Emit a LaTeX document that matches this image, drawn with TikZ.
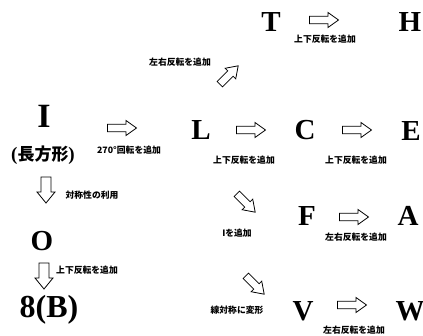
\documentclass[tikz,border=0pt]{standalone}
\usepackage{fontspec}
\setmainfont{Liberation Serif}
\newfontfamily\jp{Noto Sans CJK JP}
\tikzset{
  big/.style={font=\fontsize{29}{30}\selectfont\bfseries, inner sep=0pt},
  lbl/.style={font=\jp\fontsize{8.8}{9}\selectfont\bfseries, inner sep=0pt},
  harr/.pic={\draw[line width=0.8pt, fill=white, line join=miter]
     (-14.5,-3.8) -- (4,-3.8) -- (4,-7.5) -- (14.5,0) -- (4,7.5) -- (4,3.8) -- (-14.5,3.8) -- cycle;},
  varr/.pic={\draw[line width=0.8pt, fill=white, line join=miter]
     (-13,-5) -- (2,-5) -- (2,-9) -- (13,0) -- (2,9) -- (2,5) -- (-13,5) -- cycle;},
  darr/.pic={\draw[line width=0.8pt, fill=white, line join=miter]
     (-13,-3.8) -- (2,-3.8) -- (2,-7.5) -- (13,0) -- (2,7.5) -- (2,3.8) -- (-13,3.8) -- cycle;},
}
\begin{document}
\begin{tikzpicture}[x=1pt,y=-1pt]
\useasboundingbox (0,0) rectangle (423,336);
% letters
\node[big, font=\fontsize{34}{35}\selectfont\bfseries] (I) at (44,116) {I};
\node[font=\fontsize{17}{18}\selectfont\bfseries, inner sep=0pt] (Irect) at (43,155) {{\fontsize{19}{19}\selectfont(}\jp 長方形{\rmfamily\fontsize{19}{19}\selectfont)}};
\node[big] (T) at (271,22) {T};
\node[big] (H) at (410,22) {H};
\node[big] (L) at (201,130) {L};
\node[big] (C) at (305,130) {C};
\node[big] (E) at (411,131) {E};
\node[big] (F) at (307,216) {F};
\node[big] (A) at (408,216) {A};
\node[big] (V) at (303,311) {V};
\node[big] (W) at (410,311) {W};
\node[big] (O) at (42,241) {O};
\node[big, font=\fontsize{32}{33}\selectfont\bfseries] (B) at (49,310) {8(B)};
% arrows
\pic at (122,128) {harr};
\pic at (251,130) {harr};
\pic at (357,130) {harr};
\pic at (324,20) {harr};
\pic at (354,217) {harr};
\pic at (352,305) {harr};
\pic[rotate=45] at (229,75) {darr};
\pic[rotate=-45] at (246,203) {darr};
\pic[rotate=-45] at (255,285) {darr};
\pic[rotate=-90] at (46,190) {varr};
\pic[rotate=-90] at (44,276) {varr};
% labels
\node[lbl] (l1) at (129,150) {270°回転を追加};
\node[lbl] (l2) at (244,160) {上下反転を追加};
\node[lbl] (l3) at (356,160) {上下反転を追加};
\node[lbl] (l4) at (325,39) {上下反転を追加};
\node[lbl] (l5) at (180,62) {左右反転を追加};
\node[lbl] (l6) at (92,195) {対称性の利用};
\node[lbl] (l7) at (87,270) {上下反転を追加};
\node[lbl] (l8) at (237,233) {Iを追加};
\node[lbl] (l9) at (356,237) {左右反転を追加};
\node[lbl] (l10) at (237,310) {線対称に変形};
\node[lbl] (l11) at (354,330) {左右反転を追加};
\end{tikzpicture}
\end{document}
